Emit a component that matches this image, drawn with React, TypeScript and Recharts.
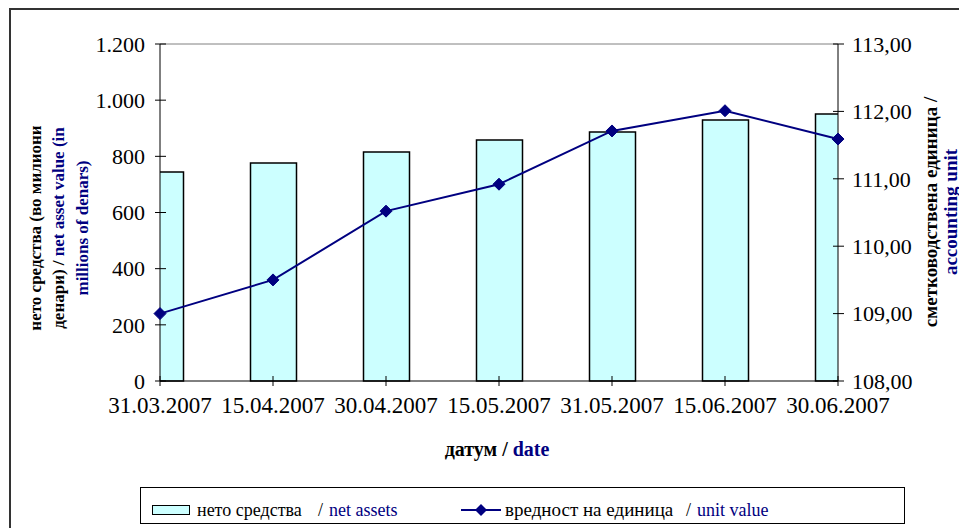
import React from 'react';
import { ComposedChart, Bar, Line, XAxis, YAxis, ReferenceLine } from 'recharts';

const dates = ['31.03.2007', '15.04.2007', '30.04.2007', '15.05.2007', '31.05.2007', '15.06.2007', '30.06.2007'];
const netAssets = [744, 776, 815, 858, 887, 929, 951];
const unitValue = [109.0, 109.5, 110.52, 110.92, 111.71, 112.01, 111.59];
const leftTicks = [0, 200, 400, 600, 800, 1000, 1200];
const rightTicks = [108, 109, 110, 111, 112, 113];
const xTicks = dates.map((_, i) => i);

const data = dates.map((d, i) => ({ idx: i, date: d, net: netAssets[i], unit: unitValue[i] }));

const FONT = 'Liberation Serif';
const NAVY = '#000080';
const TICK_FS = 22;

const fmtLeft = (v: number) => String(v).replace(/\B(?=(\d{3})+(?!\d))/g, '.');
const fmtRight = (v: number) => v.toFixed(2).replace('.', ',');

const XTick = (props: any) => {
  const { x, y, payload } = props;
  return (
    <g>
      <line x1={x} x2={x} y1={y - 5} y2={y + 5} stroke="#000" strokeWidth={1} />
      <text x={x} y={y + 32} textAnchor="middle" fontSize={23} fontFamily={FONT} fill="#000">
        {dates[payload.value]}
      </text>
    </g>
  );
};

const LeftTick = (props: any) => {
  const { x, y, payload } = props;
  return (
    <g>
      <line x1={x - 5} x2={x + 6} y1={y} y2={y} stroke="#000" strokeWidth={1} />
      <text x={x - 15} y={y} dy="0.35em" textAnchor="end" fontSize={TICK_FS} fontFamily={FONT} fill="#000">
        {fmtLeft(payload.value)}
      </text>
    </g>
  );
};

const RightTick = (props: any) => {
  const { x, y, payload } = props;
  return (
    <g>
      <line x1={x - 5} x2={x + 6} y1={y} y2={y} stroke="#000" strokeWidth={1} />
      <text x={x + 14} y={y} dy="0.35em" textAnchor="start" fontSize={TICK_FS} fontFamily={FONT} fill="#000">
        {fmtRight(payload.value)}
      </text>
    </g>
  );
};

const Diamond = (props: any) => {
  const { cx, cy, index } = props;
  if (cx == null || cy == null) return <g key={`d${index}`} />;
  const s = 6;
  return (
    <polygon
      key={`d${index}`}
      points={`${cx},${cy - s} ${cx + s},${cy} ${cx},${cy + s} ${cx - s},${cy}`}
      fill={NAVY}
      stroke={NAVY}
    />
  );
};

const legendText: React.CSSProperties = {
  position: 'absolute',
  fontFamily: FONT,
  fontSize: 18,
  lineHeight: '20px',
  top: 500,
  whiteSpace: 'nowrap',
};

export default function App() {
  return (
    <div
      style={{
        position: 'fixed',
        left: 0,
        top: 0,
        width: 959,
        height: 528,
        overflow: 'hidden',
        background: '#fff',
        fontFamily: FONT,
      }}
    >
      <div
        style={{
          position: 'absolute',
          left: 9,
          top: 8,
          width: 2000,
          height: 2000,
          borderLeft: '2px solid #333',
          borderTop: '2px solid #333',
        }}
      />
      <div style={{ position: 'absolute', left: 0, top: 0 }}>
        <ComposedChart
          width={959}
          height={528}
          data={data}
          margin={{ top: 44, right: 61, bottom: 107, left: 100 }}
        >
          <XAxis
            xAxisId="bar"
            dataKey="idx"
            type="number"
            domain={[0, 6]}
            ticks={xTicks}
            interval={0}
            allowDataOverflow
            height={40}
            tickSize={0}
            tickMargin={0}
            tickLine={false}
            axisLine={{ stroke: '#000', strokeWidth: 1 }}
            tick={<XTick />}
          />
          <XAxis xAxisId="line" dataKey="idx" type="number" domain={[0, 6]} hide />
          <YAxis
            yAxisId="left"
            orientation="left"
            domain={[0, 1200]}
            ticks={leftTicks}
            interval={0}
            width={60}
            tickSize={0}
            tickMargin={0}
            tickLine={false}
            axisLine={{ stroke: '#000', strokeWidth: 1 }}
            tick={<LeftTick />}
          />
          <YAxis
            yAxisId="right"
            orientation="right"
            domain={[108, 113]}
            ticks={rightTicks}
            interval={0}
            width={60}
            tickSize={0}
            tickMargin={0}
            tickLine={false}
            axisLine={{ stroke: '#000', strokeWidth: 1 }}
            tick={<RightTick />}
          />
          <ReferenceLine xAxisId="bar" yAxisId="left" y={1200} stroke="#808080" strokeWidth={1} />
          <Bar
            xAxisId="bar"
            yAxisId="left"
            dataKey="net"
            barSize={46}
            fill="#CCFFFF"
            stroke="#000"
            strokeWidth={1.5}
            isAnimationActive={false}
          />
          <Line
            xAxisId="line"
            yAxisId="right"
            dataKey="unit"
            type="linear"
            stroke={NAVY}
            strokeWidth={2}
            dot={<Diamond />}
            activeDot={false}
            isAnimationActive={false}
          />
        </ComposedChart>
      </div>

      <svg
        width={959}
        height={528}
        style={{ position: 'absolute', left: 0, top: 0, pointerEvents: 'none' }}
      >
        <g fontFamily={FONT} fontWeight="bold" fontSize={17}>
          <text x={35} y={228} transform="rotate(-90 35 228)" textAnchor="middle" dominantBaseline="central" fill="#000">
            нето средства (во милиони
          </text>
          <text x={58} y={228} transform="rotate(-90 58 228)" textAnchor="middle" dominantBaseline="central" fill="#000">
            денари) / <tspan fill={NAVY}>net asset value (in</tspan>
          </text>
          <text x={82} y={228} transform="rotate(-90 82 228)" textAnchor="middle" dominantBaseline="central" fill={NAVY}>
            millions of denars)
          </text>
        </g>
        <g fontFamily={FONT} fontWeight="bold" fontSize={19}>
          <text x={930} y={212} transform="rotate(-90 930 212)" textAnchor="middle" dominantBaseline="central" fill="#000">
            сметководствена единица /
          </text>
          <text x={950} y={212} transform="rotate(-90 950 212)" textAnchor="middle" dominantBaseline="central" fill={NAVY}>
            accounting unit
          </text>
        </g>
        <g fontFamily={FONT} fontWeight="bold" fontSize={20}>
          <text x={497} y={449} textAnchor="middle" dominantBaseline="central" fill="#000">
            датум / <tspan fill={NAVY}>date</tspan>
          </text>
        </g>
      </svg>

      <div
        style={{
          position: 'absolute',
          left: 140,
          top: 487,
          width: 765,
          height: 37,
          boxSizing: 'border-box',
          border: '1px solid #000',
          background: '#fff',
        }}
      />
      <div
        style={{
          position: 'absolute',
          left: 152,
          top: 505,
          width: 38,
          height: 10,
          boxSizing: 'border-box',
          border: '1.5px solid #000',
          background: '#CCFFFF',
        }}
      />
      <span style={{ ...legendText, left: 197, color: '#000' }}>нето средства</span>
      <span style={{ ...legendText, left: 318, color: '#000' }}>/</span>
      <span style={{ ...legendText, left: 329, color: NAVY }}>net assets</span>
      <svg width={40} height={14} style={{ position: 'absolute', left: 461, top: 503 }}>
        <line x1={0} x2={40} y1={7} y2={7} stroke={NAVY} strokeWidth={2} />
        <polygon points="20,1 26,7 20,13 14,7" fill={NAVY} />
      </svg>
      <span style={{ ...legendText, left: 505, width: 172, fontSize: 19, overflow: 'hidden', color: '#000' }}>
        вредност на единица
      </span>
      <span style={{ ...legendText, left: 686, color: '#000' }}>/</span>
      <span style={{ ...legendText, left: 697, color: NAVY }}>unit value</span>
    </div>
  );
}
